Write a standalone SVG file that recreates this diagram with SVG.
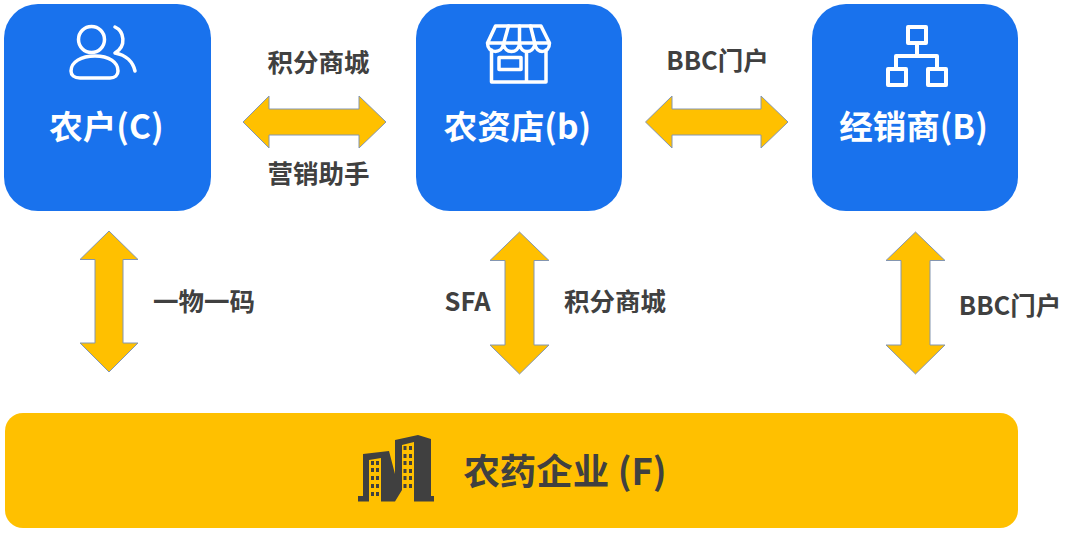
<svg xmlns="http://www.w3.org/2000/svg" width="1080" height="533" viewBox="0 0 1080 533">
<style>
text{font-family:"Noto Sans CJK SC","Open Sans",sans-serif;font-weight:700;text-anchor:middle}
.box{fill:#1972ed}
.title{fill:#fff;font-size:33.500px}
.label{fill:#404040;font-size:25.500px}
.arrow{fill:#ffc000;stroke:#8496b0;stroke-width:1}
.ico{fill:none;stroke:#fff;stroke-width:3.500;stroke-linecap:round;stroke-linejoin:round}
</style>
<rect width="1080" height="533" fill="#fff"/>
<g id="connectors">
<polygon class="arrow" points="243,122 269,96 269,109 359,109 359,96 386,122 359,148 359,135 269,135 269,148"/>
<polygon class="arrow" points="645.500,122 672,96 672,109 761,109 761,96 788,122 761,148 761,135 672,135 672,148"/>
<polygon class="arrow" points="109,231 138,259.500 123,259.500 123,343 138,343 109,372 80,343 95,343 95,259.500 80,259.500"/>
<polygon class="arrow" points="519.500,232 549,260.500 534,260.500 534,345 549,345 519.500,374 490,345 505,345 505,260.500 490,260.500"/>
<polygon class="arrow" points="915.500,232 945,260.500 930,260.500 930,345 945,345 915.500,374 886,345 901,345 901,260.500 886,260.500"/>
</g>
<g id="node-farmer">
<rect class="box" x="4" y="4" width="207" height="207" rx="34"/>
<circle class="ico" cx="91.500" cy="39.500" r="13"/>
<path class="ico" d="M80,78 C74,78 71,75 71,71 C71,62 81,56 95,56 C109,56 118,62 118,71 C118,75 115,78 110,78 Z"/>
<path class="ico" d="M115,27 C124,31 127,46 115,53 C126,55 133,62 135,71"/>
<text class="title" x="106.500" y="139">农户(C)</text>
</g>
<g id="node-store">
<rect class="box" x="416" y="4" width="206" height="207" rx="34"/>
<g class="ico">
<path d="M495.500,26 H541 L549.500,43 C549.500,54 536,54 535,44 C533,54 521,54 519.500,44 C518,54 505,54 503.500,44 C502,54 487.500,54 487.500,43 Z M487.500,43 H549.500"/>
<path d="M508.500,26 L503.500,44 M519.500,26 V44 M530.500,26 L535,44"/>
<path d="M491.500,50 V82 H546 V50 M526.500,52 V82"/>
<rect x="499" y="57.500" width="22" height="12"/>
</g>
<text class="title" x="517.500" y="139">农资店(b)</text>
</g>
<g id="node-dealer">
<rect class="box" x="812" y="4" width="206" height="207" rx="34"/>
<g class="ico" style="stroke-width:4">
<rect x="908" y="27" width="18" height="16"/>
<path d="M917,43 V56 M896,68 V56 H937 V68"/>
<rect x="888" y="69" width="18" height="16"/>
<rect x="928" y="69" width="18" height="16"/>
</g>
<text class="title" x="913.500" y="139">经销商(B)</text>
</g>
<g id="node-company">
<rect x="5" y="413" width="1013" height="115" rx="18" fill="#ffc000"/>
<path fill="#404040" d="M358,496 H363 V454 L389,451 L395,474 V440 L418,435 L431,439 V496 H434 V501.500 H414 V442 L402,445 V490 L395,501.500 H381 V458 L369,460 V501.500 H358 Z"/>
<g fill="#404040">
<rect x="371" y="461" width="3" height="4"/><rect x="376" y="461" width="3" height="4"/>
<rect x="371" y="468" width="3" height="4"/><rect x="376" y="468" width="3" height="4"/>
<rect x="371" y="476" width="3" height="4"/><rect x="376" y="476" width="3" height="4"/>
<rect x="371" y="484" width="3" height="4"/><rect x="376" y="484" width="3" height="4"/>
<rect x="371" y="492" width="3" height="4"/><rect x="376" y="492" width="3" height="4"/>
<rect x="403.500" y="446" width="3" height="4"/><rect x="409" y="446" width="3" height="4"/>
<rect x="403.500" y="454" width="3" height="4"/><rect x="409" y="454" width="3" height="4"/>
<rect x="403.500" y="461" width="3" height="4"/><rect x="409" y="461" width="3" height="4"/>
<rect x="403.500" y="469" width="3" height="4"/><rect x="409" y="469" width="3" height="4"/>
<rect x="403.500" y="476" width="3" height="4"/><rect x="409" y="476" width="3" height="4"/>
<rect x="403.500" y="484" width="3" height="4"/><rect x="409" y="484" width="3" height="4"/>
</g>
<text x="565" y="485" fill="#404040" font-size="36.500">农药企业 (F)</text>
</g>
<g id="labels">
<text class="label" x="318.500" y="72">积分商城</text>
<text class="label" x="318.500" y="183">营销助手</text>
<text class="label" x="717.500" y="70">BBC门户</text>
<text class="label" x="204" y="311">一物一码</text>
<text class="label" x="467.500" y="311">SFA</text>
<text class="label" x="615" y="311">积分商城</text>
<text class="label" x="1010" y="315">BBC门户</text>
</g>
</svg>
